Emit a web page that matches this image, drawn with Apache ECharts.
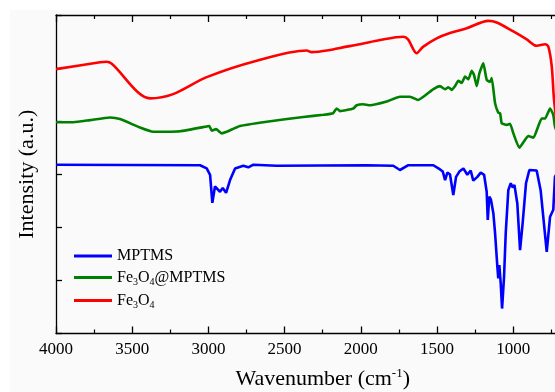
<!DOCTYPE html>
<html>
<head>
<meta charset="utf-8">
<script src="https://cdn.jsdelivr.net/npm/echarts@6/dist/echarts.min.js"></script>
<style>html,body{margin:0;padding:0;background:#fff}#c{width:555px;height:392px}</style>
</head>
<body>
<div id="c"></div>
<script>
// Wavenumber (cm-1) and intensity (a.u., offset traces)
const mptmsWn = [4000,3055,3011,2989,2974,2957,2945,2924,2906,2884,2858,2825,2771,2738,2705,2552,1961,1787,1743,1688,1524,1480,1462,1447,1432,1415,1393,1375,1353,1327,1301,1279,1262,1235,1213,1191,1174,1167,1157,1146,1130,1119,1104,1098,1091,1082,1073,1060,1049,1032,1016,1003,992,973,955,938,916,894,846,820,780,758,737,726,700];
const mptmsI  = [3.18,3.17,3.11,2.99,2.46,2.77,2.78,2.67,2.74,2.65,2.89,3.11,3.16,3.13,3.18,3.16,3.17,3.16,3.08,3.17,3.17,3.09,3.05,2.89,3.03,3.00,2.61,2.95,3.05,3.11,2.99,3.07,2.88,2.95,3.03,2.99,2.67,2.14,2.58,2.52,2.26,1.89,1.26,1.04,1.29,0.95,0.47,1.07,1.89,2.70,2.83,2.75,2.80,2.45,1.57,2.08,2.83,3.08,3.07,2.70,1.54,2.20,2.33,2.95,3.1];

const feMptmsWn = [4000,3886,3777,3646,3580,3449,3362,3186,3011,2994,2978,2950,2913,2880,2793,2617,2377,2246,2182,2158,2136,2049,2027,1985,1940,1830,1743,1677,1625,1526,1480,1447,1426,1403,1382,1360,1338,1316,1294,1272,1257,1239,1222,1196,1174,1152,1141,1119,1098,1086,1075,1042,1021,999,960,922,901,867,835,813,791,758,737,726,700];
const feMptmsI  = [3.98,3.98,4.02,4.07,4.04,3.88,3.80,3.81,3.90,3.91,3.82,3.85,3.77,3.80,3.91,3.99,4.08,4.12,4.15,4.24,4.19,4.24,4.30,4.32,4.30,4.37,4.46,4.46,4.40,4.60,4.66,4.60,4.64,4.59,4.66,4.76,4.72,4.84,4.79,4.95,4.87,4.66,4.90,5.09,4.78,4.74,4.81,4.34,4.16,4.15,3.96,3.93,3.95,3.77,3.50,3.65,3.72,3.69,3.91,4.05,4.05,4.24,4.12,3.90,3.7];

const feWn = [4000,3711,3667,3634,3383,3232,3011,2683,2355,2322,2182,2136,2005,1874,1721,1690,1633,1592,1502,1415,1305,1163,1108,999,911,846,791,769,747,732,700];
const feI  = [4.98,5.11,5.12,5.08,4.43,4.51,4.83,5.14,5.33,5.30,5.35,5.38,5.45,5.53,5.59,5.54,5.28,5.40,5.56,5.66,5.75,5.89,5.86,5.69,5.54,5.42,5.45,5.40,5.03,4.40,3.6];

const xTicks = [4000,3500,3000,2500,2000,1500,1000,500];
const seriesNames = ['MPTMS','Fe3O4@MPTMS','Fe3O4'];

const pair = (xs, ys) => xs.map((x, i) => [x, ys[i]]);
const serif = '"Liberation Serif","Times New Roman",serif';

const chart = echarts.init(document.getElementById('c'), null, {renderer:'canvas'});
const mk = (name, xs, ys, color, smooth) => ({
  name, type:'line', data: pair(xs, ys), showSymbol:false, symbol:'none', smooth: smooth || false,
  lineStyle:{color, width:2.6}, itemStyle:{color}, animation:false, clip:true
});
const legendFmt = n => {
  if (n === 'Fe3O4@MPTMS') return '{n|Fe}{s|3}{n|O}{s|4}{n|@MPTMS}';
  if (n === 'Fe3O4') return '{n|Fe}{s|3}{n|O}{s|4}';
  return '{n|' + n + '}';
};
chart.setOption({
  backgroundColor:'#fafafa',
  animation:false,
  graphic:[
    {type:'rect', left:0, top:0, shape:{width:555, height:10}, style:{fill:'#fff'}, z:-1},
    {type:'rect', left:0, top:0, shape:{width:10, height:392}, style:{fill:'#fff'}, z:-1}
  ],
  grid:{left:56, top:15, height:318.5, width:533.4, containLabel:false, outerBoundsMode:'none'},
  legend:{
    orient:'vertical', left:69, top:243, itemWidth:38, itemHeight:3, icon:'rect',
    itemGap:4, data: seriesNames, formatter: legendFmt,
    textStyle:{color:'#000', fontFamily:serif, fontSize:16,
      rich:{
        n:{fontFamily:serif, fontSize:16, color:'#000', lineHeight:18},
        s:{fontFamily:serif, fontSize:10, color:'#000', padding:[9,0,0,0], lineHeight:18}
      }}
  },
  xAxis:[{
    type:'value', min:500, max:4000, interval:500, inverse:true,
    position:'bottom',
    axisLine:{show:true, onZero:false, lineStyle:{color:'#000', width:1.3}},
    axisTick:{show:true, inside:true, length:7, lineStyle:{color:'#000', width:1.3}},
    minorTick:{show:true, splitNumber:2, length:4, lineStyle:{color:'#000', width:1.2}},
    splitLine:{show:false},
    axisLabel:{color:'#000', fontFamily:serif, fontSize:17, margin:8,
      formatter: v => xTicks.includes(v) ? String(v) : ''},
    name:'{a|Wavenumber (cm}{b|-1}{a|)}', nameLocation:'middle', nameGap:33,
    nameTextStyle:{rich:{
      a:{fontFamily:serif, fontSize:22, color:'#000', lineHeight:26},
      b:{fontFamily:serif, fontSize:13, color:'#000', padding:[0,0,12,0], lineHeight:26}
    }}
  },{
    type:'value', min:500, max:4000, interval:500, inverse:true,
    position:'top',
    axisLine:{show:true, onZero:false, lineStyle:{color:'#000', width:1.3}},
    axisTick:{show:true, inside:true, length:7, lineStyle:{color:'#000', width:1.3}},
    minorTick:{show:true, splitNumber:2, length:4, lineStyle:{color:'#000', width:1.2}},
    splitLine:{show:false}, axisLabel:{show:false}
  }],
  yAxis:{
    type:'value', min:0, max:6, interval:1,
    axisLine:{show:true, onZero:false, lineStyle:{color:'#000', width:1.3}},
    axisTick:{show:true, inside:true, length:6, lineStyle:{color:'#000', width:1.3}},
    splitLine:{show:false}, axisLabel:{show:false},
    name:'Intensity (a.u.)', nameLocation:'middle', nameGap:18,
    nameTextStyle:{fontFamily:serif, fontSize:22, color:'#000'}
  },
  series:[
    mk('MPTMS', mptmsWn, mptmsI, '#0000ff'),
    mk('Fe3O4@MPTMS', feMptmsWn, feMptmsI, '#008000', 0.15),
    mk('Fe3O4', feWn, feI, '#ff0000', 0.3)
  ]
});
</script>
</body>
</html>
